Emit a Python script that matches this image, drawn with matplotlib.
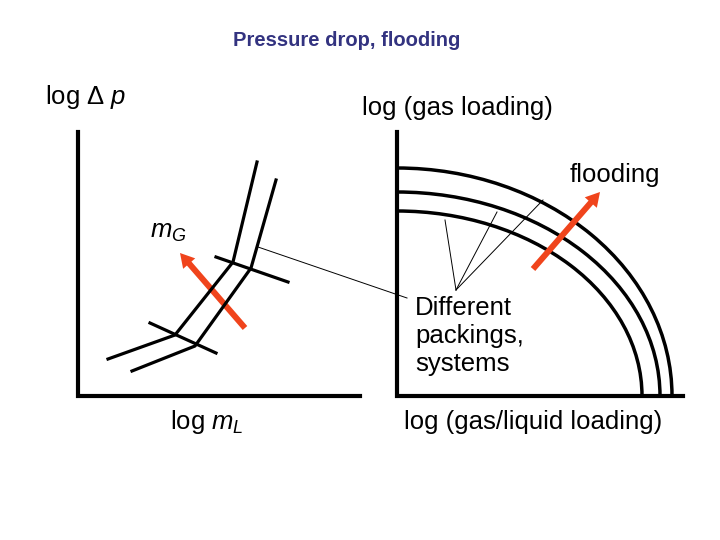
import matplotlib
matplotlib.use('Agg')
import matplotlib.pyplot as plt
from matplotlib.patches import Arc

plt.rcParams['font.family'] = ['Liberation Sans', 'DejaVu Sans']
plt.rcParams['mathtext.fontset'] = 'custom'
plt.rcParams['mathtext.rm'] = 'Liberation Sans'
plt.rcParams['mathtext.it'] = 'Liberation Sans:italic'

# diagram geometry (pixel positions)
left_axis_x = [78, 78, 360]
left_axis_y = [132, 396, 396]
right_axis_x = [397, 397, 683]
right_axis_y = [132, 396, 396]

strand_a_x = [257, 233, 175, 108]
strand_a_y = [162, 262, 335, 359]
strand_b_x = [276, 251, 195, 132]
strand_b_y = [180, 268, 346, 371]
cross_upper_x = [216, 288]
cross_upper_y = [257, 282]
cross_lower_x = [150, 216]
cross_lower_y = [323, 353]

connector_x = [258, 407]
connector_y = [247, 298]
fan_apex = (456, 290)
fan_ends_x = [445, 497, 543]
fan_ends_y = [220, 212, 200]

arc_center = (397, 396)
arc_rx = [275, 263, 245]
arc_ry = [228, 204, 185]

arrow_left = [(245, 328), (180, 253)]
arrow_right = [(533, 269), (600, 192)]

red = '#f0441c'

fig = plt.figure(figsize=(7.2, 5.4), dpi=100)
ax = fig.add_axes([0, 0, 1, 1])
ax.set_xlim(0, 720)
ax.set_ylim(540, 0)
ax.axis('off')

# axes of both panels
ax.plot(left_axis_x, left_axis_y, color='black', lw=3, solid_joinstyle='miter')
ax.plot(right_axis_x, right_axis_y, color='black', lw=3, solid_joinstyle='miter')

# left panel: pressure drop curves
for xs, ys in [(strand_a_x, strand_a_y), (strand_b_x, strand_b_y),
               (cross_upper_x, cross_upper_y), (cross_lower_x, cross_lower_y)]:
    ax.plot(xs, ys, color='black', lw=2.3)

# right panel: flooding curves
for rx, ry in zip(arc_rx, arc_ry):
    ax.add_patch(Arc(arc_center, 2 * rx, 2 * ry, theta1=270, theta2=360,
                     color='black', lw=2.5))

# thin pointer lines
ax.plot(connector_x, connector_y, color='black', lw=0.7)
for ex, ey in zip(fan_ends_x, fan_ends_y):
    ax.plot([fan_apex[0], ex], [fan_apex[1], ey], color='black', lw=0.7)

# red arrows
for (x0, y0), (x1, y1) in [arrow_left, arrow_right]:
    ax.arrow(x0, y0, x1 - x0, y1 - y0, width=6, head_width=16, head_length=14,
             length_includes_head=True, color=red, lw=0)

fs = 18.5
ax.text(347, 40, 'Pressure drop, flooding', ha='center', va='center',
        fontsize=14.5, fontweight='bold', color='#333380')
ax.text(45, 97, r'log Δ $p$', ha='left', va='center', fontsize=fs)
ax.text(362, 108, 'log (gas loading)', ha='left', va='center', fontsize=fs)
ax.text(570, 175, 'flooding', ha='left', va='center', fontsize=fs)
ax.text(150, 232, r'$m_G$', ha='left', va='center', fontsize=fs)
ax.text(415, 336, 'Different\npackings,\nsystems', ha='left', va='center',
        fontsize=fs, linespacing=1.22)
ax.text(170, 422, r'log $m_L$', ha='left', va='center', fontsize=fs)
ax.text(404, 422, 'log (gas/liquid loading)', ha='left', va='center', fontsize=fs)

fig.savefig('out.png', dpi=100)
